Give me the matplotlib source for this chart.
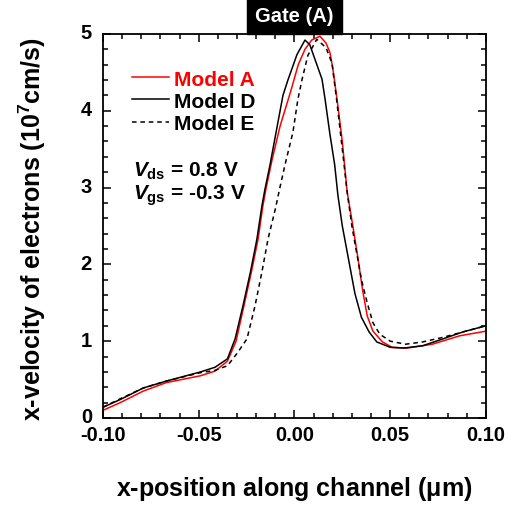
import matplotlib
matplotlib.use("Agg")
from matplotlib import pyplot as plt
from matplotlib.patches import Rectangle
from matplotlib.ticker import MultipleLocator
import matplotlib.transforms as mtransforms

plt.rcParams['font.family'] = ['Liberation Sans', 'DejaVu Sans']
plt.rcParams['font.weight'] = 'bold'
plt.rcParams['axes.labelweight'] = 'bold'
plt.rcParams['mathtext.fontset'] = 'custom'
plt.rcParams['mathtext.rm'] = 'Liberation Sans:bold'
plt.rcParams['mathtext.bf'] = 'Liberation Sans:bold'
plt.rcParams['mathtext.it'] = 'Liberation Sans:bold:italic'

# Model A (red solid)
xa = [-0.100, -0.091, -0.079, -0.067, -0.049, -0.0415, -0.035, -0.0305, -0.0264,
      -0.0225, -0.019, -0.0165, -0.0149, -0.0118, -0.0075, -0.002, 0.002, 0.0055,
      0.009, 0.0133, 0.0165, 0.0185, 0.020, 0.0225, 0.025, 0.0275, 0.0305, 0.033,
      0.0355, 0.038, 0.041, 0.046, 0.051, 0.0587, 0.072, 0.0864, 0.100]
va = [0.10, 0.20, 0.35, 0.46, 0.55, 0.61, 0.74, 1.00, 1.46,
      1.90, 2.33, 2.76, 2.98, 3.35, 3.80, 4.25, 4.60, 4.80,
      4.92, 4.97, 4.88, 4.76, 4.56, 4.10, 3.60, 2.95, 2.50, 2.11,
      1.68, 1.33, 1.13, 0.99, 0.92, 0.91, 0.96, 1.07, 1.13]

# Model D (black solid)
xd = [-0.100, -0.091, -0.079, -0.067, -0.049, -0.0415, -0.035, -0.031, -0.0269,
      -0.023, -0.0196, -0.017, -0.0154, -0.0128, -0.009, -0.006, -0.0034, 0.0013,
      0.0055, 0.008, 0.0117, 0.0144, 0.016, 0.0185, 0.021, 0.0227, 0.025, 0.028,
      0.0316, 0.035, 0.039, 0.043, 0.050, 0.057, 0.067, 0.0776, 0.088, 0.100]
vd = [0.14, 0.24, 0.39, 0.48, 0.60, 0.66, 0.77, 1.03, 1.46,
      1.90, 2.33, 2.76, 2.98, 3.29, 3.80, 4.20, 4.40, 4.73,
      4.92, 4.86, 4.60, 4.41, 4.15, 3.70, 3.30, 2.90, 2.50, 2.10,
      1.62, 1.31, 1.12, 0.99, 0.92, 0.91, 0.94, 1.03, 1.12, 1.20]

# Model E (black dashed)
xe = [-0.100, -0.091, -0.079, -0.067, -0.049, -0.0415, -0.035, -0.030, -0.0248,
      -0.0206, -0.017, -0.0138, -0.010, -0.0076, -0.005, -0.0008, 0.0018, 0.004,
      0.007, 0.0117, 0.0165, 0.0196, 0.022, 0.025, 0.0275, 0.030, 0.0325, 0.035,
      0.038, 0.041, 0.0446, 0.050, 0.058, 0.067, 0.0776, 0.088, 0.100]
ve = [0.14, 0.25, 0.39, 0.48, 0.59, 0.62, 0.68, 0.84, 1.03,
      1.46, 1.90, 2.33, 2.72, 3.00, 3.29, 3.72, 4.15, 4.41,
      4.72, 4.93, 4.82, 4.62, 4.15, 3.50, 2.95, 2.50, 2.15, 1.80,
      1.50, 1.24, 1.09, 1.00, 0.96, 0.99, 1.05, 1.12, 1.20]

fig = plt.figure(figsize=(5.23, 5.06), dpi=100)
ax = fig.add_axes([0.197, 0.172, 0.732, 0.759])

ax.plot(xa, va, color='#ff0000', lw=1.1, label='Model A')
ax.plot(xd, vd, color='black', lw=1.1, label='Model D')
ax.plot(xe, ve, color='black', lw=1.1, ls=(0, (3, 2.5)), label='Model E')

ax.set_xlim(-0.10, 0.10)
ax.set_ylim(0, 5)
ax.xaxis.set_major_locator(MultipleLocator(0.05))
ax.xaxis.set_minor_locator(MultipleLocator(0.01))
ax.yaxis.set_major_locator(MultipleLocator(1))
ax.yaxis.set_minor_locator(MultipleLocator(0.2))
ax.set_xticklabels(['%.2f' % t for t in ax.get_xticks()])
ax.tick_params(which='both', direction='in', top=True, right=True, labelsize=14.5, width=1.1)
ax.tick_params(which='major', length=6)
ax.tick_params(axis='x', which='major', pad=5)
ax.tick_params(axis='y', which='major', pad=8)
ax.tick_params(which='minor', length=3.5)
for s in ax.spines.values():
    s.set_linewidth(1.3)

# y tick labels sit a little above their ticks in the original
shift = mtransforms.ScaledTranslation(0, 3 / 100, fig.dpi_scale_trans)
for lab in ax.get_yticklabels():
    lab.set_transform(lab.get_transform() + shift)

ax.set_xlabel(r'x-position along channel ($\mathbf{\mu}$m)', fontsize=18, labelpad=22)
fig.text(0.062, 1 - 229 / 506, r'x-velocity of electrons (10$^{\mathbf{7}}$cm/s)',
         rotation=90, va='center', ha='center', fontsize=18)

leg = ax.legend(loc='upper left', bbox_to_anchor=(0.076, 0.907), frameon=False,
                borderpad=0, borderaxespad=0,
                fontsize=15, handlelength=1.75, handletextpad=0.25, labelspacing=0.15)
leg.get_texts()[0].set_color('#ff0000')

ax.text(0.078, 0.630, r'$V_{\mathrm{ds}}$ = 0.8 V', transform=ax.transAxes, fontsize=15, va='baseline')
ax.text(0.078, 0.570, r'$V_{\mathrm{gs}}$ = -0.3 V', transform=ax.transAxes, fontsize=15, va='baseline')

# gate box above the plot
trans = mtransforms.blended_transform_factory(ax.transData, ax.transAxes)
ax.add_patch(Rectangle((-0.025, 1.0), 0.05, 0.095, transform=trans, color='black', clip_on=False))
ax.text(0.0, 1.047, 'Gate (A)', transform=trans, color='white', ha='center', va='center', fontsize=14.5)

fig.savefig('out.png', dpi=100)
